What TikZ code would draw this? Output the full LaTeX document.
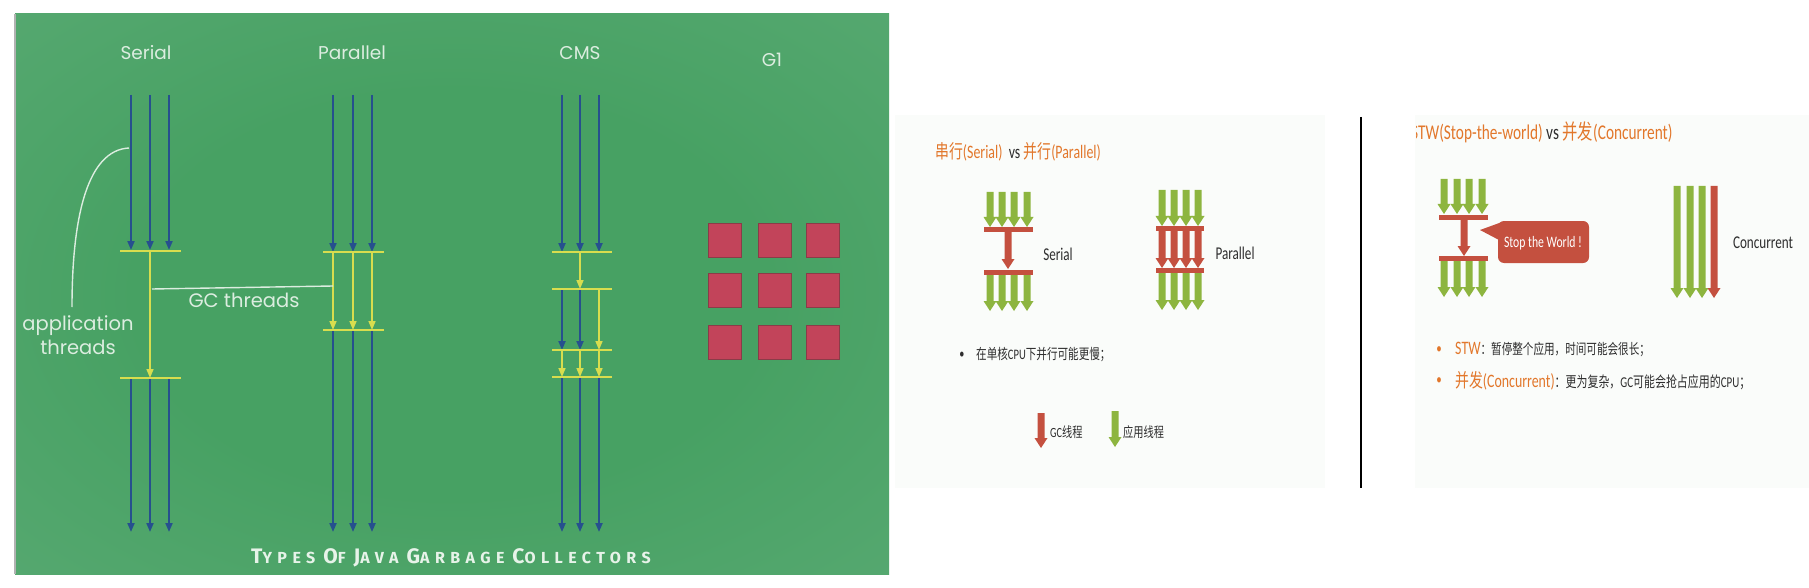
\documentclass[tikz,border=0pt]{standalone}
\usepackage{fontspec}
\usetikzlibrary{arrows.meta}
\setmainfont{Carlito}
\newfontfamily\gothic{Poppins}
\newfontfamily\titlefont[LetterSpace=34]{Fira Sans}
\newfontfamily\slidefont[FakeStretch=0.73]{Carlito}
\newfontfamily\cjkfont[FakeStretch=0.73]{Noto Sans CJK SC}
\newcommand\zh[1]{{\cjkfont #1}}
\newcommand\bigsmall[2]{{\fontsize{21}{22}\selectfont #1}{\fontsize{16}{22}\selectfont #2}}
\newcommand\fsz[1]{\fontsize{#1}{#1}\selectfont}
\definecolor{bgin}{HTML}{47A163}
\definecolor{bgout}{HTML}{6AB282}
\definecolor{jblue}{HTML}{26508E}
\definecolor{jyel}{HTML}{D8DD4E}
\definecolor{jtxt}{HTML}{DCEDE0}
\definecolor{g1red}{HTML}{C2445A}
\definecolor{g1edge}{HTML}{8A3C48}
\definecolor{ppgreen}{HTML}{8DB53F}
\definecolor{ppred}{HTML}{C4503F}
\definecolor{pporange}{HTML}{E2772B}
\definecolor{ppdark}{HTML}{2E2E2E}
\definecolor{slidebg}{HTML}{FAFCFA}
\pgfdeclareradialshading{bgshade}{\pgfpoint{0bp}{0bp}}{color(0bp)=(bgin); color(18bp)=(bgin); color(62bp)=(bgout); color(80bp)=(bgout)}
% block arrow: x, ytop, ytip, colour
\newcommand\blockarr[4]{%
  \fill[#4] (#1-3.5,#2) -- (#1+3.5,#2) -- (#1+3.5,#3-10) -- (#1+6.5,#3-10)
    -- (#1,#3) -- (#1-6.5,#3-10) -- (#1-3.5,#3-10) -- cycle;}
\begin{document}
\begin{tikzpicture}[x=1pt,y=-1pt,
  bl/.style={draw=jblue, line width=2pt, -{Triangle[width=7pt,length=9pt]}},
  yl/.style={draw=jyel, line width=1.6pt, -{Triangle[width=7pt,length=9pt]}},
  ybar/.style={draw=jyel, line width=1.6pt},
  lbl/.style={text=jtxt, inner sep=0pt, font=\gothic\fsz{18.5}},
  note/.style={draw=jtxt, line width=1.4pt},
  g1sq/.style={fill=g1red, draw=g1edge, line width=0.8pt},
  redbar/.style={fill=ppred},
  stxt/.style={inner sep=0pt, text=ppdark},
]
\useasboundingbox (0,0) rectangle (1809,588);
\fill[white] (0,0) rectangle (1809,588);

% ---------- left panel ----------
\shade[shading=bgshade] (15,14) rectangle (889,574);
\draw[gray!60, line width=1.2pt] (15,14) -- (15,574);

\node[lbl] (serial) at (146,53) {Serial};
\node[lbl] (parallel) at (352,53) {Parallel};
\node[lbl] (cms) at (580,53) {CMS};
\node[lbl] (g1) at (772,60) {G1};

% Serial
\foreach \x in {131,150,169} {
  \draw[bl] (\x,95) -- (\x,250);
  \draw[bl] (\x,378) -- (\x,532);
}
\draw[yl] (150,251) -- (150,378);
\draw[ybar] (120,251) -- (181,251);
\draw[ybar] (120,378) -- (181,378);

% Parallel
\foreach \x in {333,353,372} {
  \draw[bl] (\x,95) -- (\x,252);
  \draw[yl] (\x,252) -- (\x,330);
  \draw[bl] (\x,330) -- (\x,532);
}
\draw[ybar] (323,252) -- (384,252);
\draw[ybar] (323,330) -- (384,330);

% CMS
\foreach \x in {562,580,599} {
  \draw[bl] (\x,95) -- (\x,252);
  \draw[yl] (\x,350) -- (\x,377);
  \draw[bl] (\x,377) -- (\x,532);
}
\draw[yl] (580,252) -- (580,289);
\draw[bl] (562,289) -- (562,350);
\draw[bl] (580,289) -- (580,350);
\draw[yl] (599,289) -- (599,350);
\foreach \y in {252,289,350,377} {\draw[ybar] (552,\y) -- (612,\y);}

% G1
\foreach \cx in {708,758,806} {\foreach \cy in {223,273,325} {
  \filldraw[g1sq] (\cx,\cy) rectangle (\cx+33,\cy+34);}}

% annotations
\coordinate (appstart) at (129,148);
\coordinate (append) at (72,307);
\draw[note] (appstart) .. controls (88,150) and (72,215) .. (append);
\node[lbl, font=\gothic\fsz{19.5}, align=center] (app) at (78,335) {application\\[4pt]threads};
\coordinate (gcl) at (152,289);
\coordinate (gcr) at (333,286);
\draw[note] (gcl) -- (gcr);
\node[lbl, font=\gothic\fsz{19.5}] (gct) at (244,300) {GC threads};

\node[text=jtxt!70!white, inner sep=0pt, font=\titlefont\bfseries] (title) at (451,558)
  {\bigsmall{T}{YPES}\hspace{8pt}\bigsmall{O}{F}\hspace{8pt}\bigsmall{J}{AVA}\hspace{8pt}\bigsmall{G}{ARBAGE}\hspace{8pt}\bigsmall{C}{OLLECTORS}};

% ---------- slide 1 ----------
\fill[slidebg] (895,115) rectangle (1325,488);
\node[stxt, anchor=west, font=\slidefont\fsz{19}] (t1) at (935,152)
  {\color{pporange}\zh{串行}(Serial)\ \ \color{ppdark}vs \color{pporange}\zh{并行}(Parallel)};

% serial
\foreach \x in {990,1002,1014,1027} {\blockarr{\x}{192}{227}{ppgreen}}
\fill[redbar] (984,227) rectangle (1033,232);
\blockarr{1008}{232}{269}{ppred}
\fill[redbar] (984,270) rectangle (1033,275);
\foreach \x in {990,1002,1014,1027} {\blockarr{\x}{275}{311}{ppgreen}}
\node[stxt, font=\slidefont\fsz{18}] (serlbl) at (1058,254) {Serial};

% parallel
\foreach \x in {1162,1174,1186,1198} {
  \blockarr{\x}{190}{226}{ppgreen}
  \blockarr{\x}{231}{268}{ppred}
  \blockarr{\x}{273}{310}{ppgreen}
}
\fill[redbar] (1156,226) rectangle (1204,231);
\fill[redbar] (1156,268) rectangle (1204,273);
\node[stxt, font=\slidefont\fsz{18}] (parlbl) at (1235,253) {Parallel};

\node[stxt, font=\slidefont\fsz{14}] (b1) at (962,355) {•};
\node[stxt, anchor=west, font=\slidefont\fsz{14.5}] (b1t) at (976,355)
  {\zh{在单核}CPU\zh{下并行可能更慢；}};

\blockarr{1041}{413}{448}{ppred}
\node[stxt, anchor=west, font=\slidefont\fsz{14}] (leg1) at (1050,432) {GC\zh{线程}};
\blockarr{1115}{411}{447}{ppgreen}
\node[stxt, anchor=west, font=\slidefont\fsz{14}] (leg2) at (1123,432) {\zh{应用线程}};

% divider
\draw[black, line width=1.5pt] (1361,117) -- (1361,488);

% ---------- slide 2 ----------
\fill[slidebg] (1415,115) rectangle (1809,488);
\begin{scope}
  \clip (1416,100) rectangle (1809,160);
  \node[stxt, anchor=west, font=\slidefont\fsz{21}] (t2) at (1411,132)
    {\color{pporange}STW(Stop-the-world) \color{ppdark}vs \color{pporange}\zh{并发}(Concurrent)};
\end{scope}

\foreach \x in {1444,1457,1469,1482} {\blockarr{\x}{179}{214}{ppgreen}}
\fill[redbar] (1439,215) rectangle (1488,220);
\blockarr{1464}{220}{256}{ppred}
\fill[redbar] (1439,256) rectangle (1488,261);
\foreach \x in {1444,1457,1469,1482} {\blockarr{\x}{261}{297}{ppgreen}}

\fill[ppred] (1480,230) -- (1502,222) -- (1499,240) -- cycle;
\fill[ppred, rounded corners=6pt] (1498,221) rectangle (1589,263);
\node[inner sep=0pt, text=white, font=\slidefont\fsz{16}] (stw) at (1543,243) {Stop the World !};

\foreach \x in {1677,1690,1702} {\blockarr{\x}{186}{298}{ppgreen}}
\blockarr{1714}{186}{298}{ppred}
\node[stxt, font=\slidefont\fsz{18}] (conc) at (1763,243) {Concurrent};

\node[inner sep=0pt, text=pporange, font=\slidefont\fsz{15}] (b2) at (1439,350) {•};
\node[stxt, anchor=west, font=\slidefont\fsz{14.5}] (b2t) at (1455,350)
  {{\fsz{19}\color{pporange}STW}\zh{：暂停整个应用，时间可能会很长；}};
\node[inner sep=0pt, text=pporange, font=\slidefont\fsz{15}] (b3) at (1439,381) {•};
\node[stxt, anchor=west, font=\slidefont\fsz{15}] (b3t) at (1455,381)
  {{\fsz{19}\color{pporange}\zh{并发}(Concurrent)}\zh{：更为复杂，}GC\zh{可能会抢占应用的}CPU\zh{；}};
\end{tikzpicture}
\end{document}
